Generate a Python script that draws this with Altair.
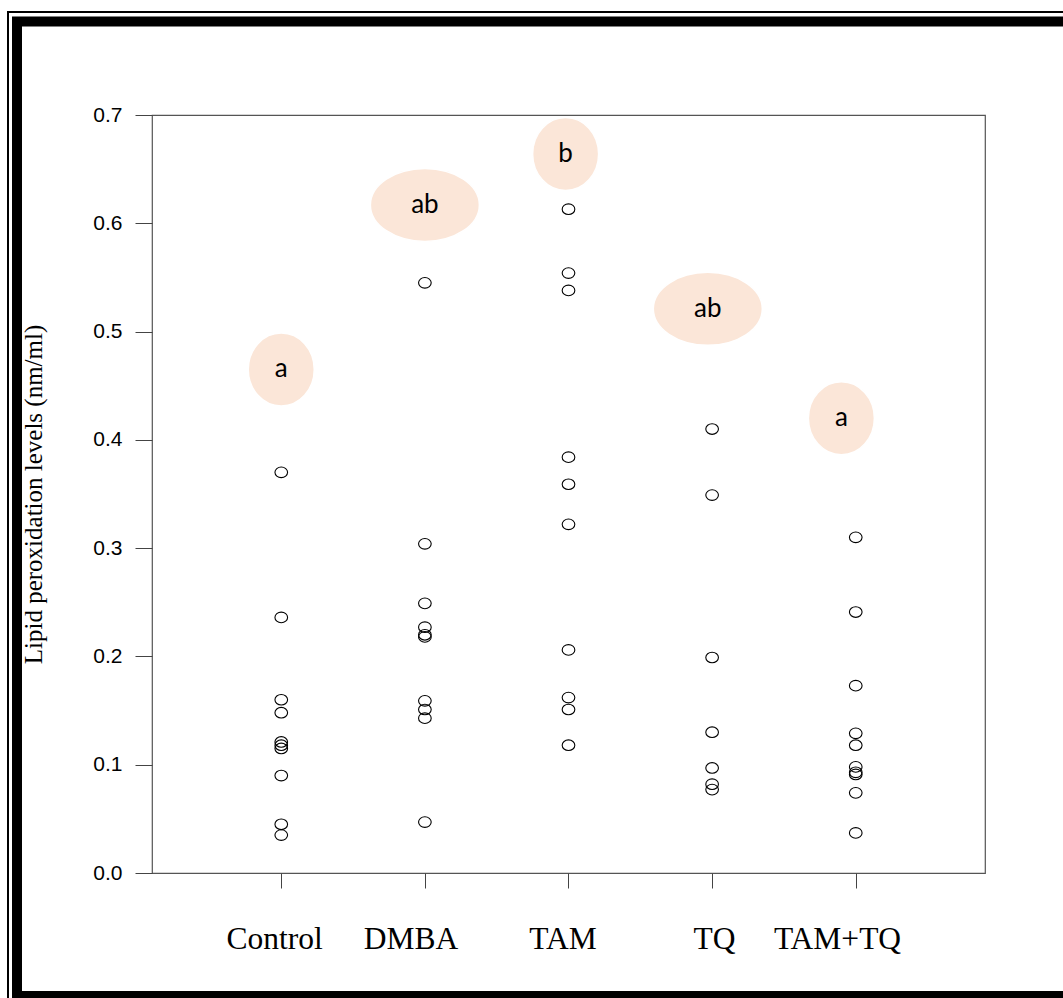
import altair as alt
import pandas as pd

# ---- data ----
groups = ["Control", "DMBA", "TAM", "TQ", "TAM+TQ"]
control = [0.370, 0.236, 0.160, 0.148, 0.121, 0.118, 0.115, 0.090, 0.045, 0.035]
dmba = [0.545, 0.304, 0.249, 0.227, 0.220, 0.218, 0.159, 0.151, 0.143, 0.047]
tam = [0.613, 0.554, 0.538, 0.384, 0.359, 0.322, 0.206, 0.162, 0.151, 0.118]
tq = [0.410, 0.349, 0.199, 0.130, 0.097, 0.082, 0.077]
tamtq = [0.310, 0.241, 0.173, 0.129, 0.118, 0.098, 0.093, 0.091, 0.074, 0.037]

letters = ["a", "ab", "b", "ab", "a"]
letter_y = [0.465, 0.617, 0.664, 0.521, 0.420]
letter_x = [1.0, 2.0, 2.98, 3.97, 4.90]

label_x = [0.953, 1.903, 2.962, 4.017, 4.873]

y_ticks = [0.0, 0.1, 0.2, 0.3, 0.4, 0.5, 0.6, 0.7]
x_ticks = [1, 2, 3, 4, 5]

series = [control, dmba, tam, tq, tamtq]
rows = []
for i, (g, vals) in enumerate(zip(groups, series)):
    for v in vals:
        rows.append({"group": g, "pos": i + 1, "value": v})
pts = pd.DataFrame(rows)
let_df = pd.DataFrame({"letter": letters, "lx": letter_x, "ly": letter_y})
lab_df = pd.DataFrame({"name": groups, "lx": label_x})
one = pd.DataFrame({"k": [0]})


def ellipse_path(k):
    c = 0.5523
    return (f"M 1 0 C 1 {c*k:.4f} {c} {k:.4f} 0 {k:.4f} "
            f"C {-c} {k:.4f} -1 {c*k:.4f} -1 0 "
            f"C -1 {-c*k:.4f} {-c} {-k:.4f} 0 {-k:.4f} "
            f"C {c} {-k:.4f} 1 {-c*k:.4f} 1 0 Z")


W, H = 833, 758
xscale = alt.Scale(domain=[0.1, 5.9], nice=False, zero=False)
yscale = alt.Scale(domain=[0, 0.7], nice=False, zero=True)

xaxis = alt.Axis(values=x_ticks, labels=False, tickSize=15, tickColor="#444",
                 tickWidth=1, domain=False, grid=False, title=None)
yaxis = alt.Axis(values=y_ticks, format=".1f", tickSize=17, tickColor="#444", tickWidth=1,
                 labelPadding=13, labelFont="Liberation Sans", labelFontSize=21,
                 labelColor="black", domain=False, grid=False,
                 title="Lipid peroxidation levels (nm/ml)", titleFont="Liberation Serif",
                 titleFontSize=25, titleFontWeight="normal", titleColor="black",
                 titleAngle=270, titleX=-119, titleY=379, titleAlign="center",
                 titleBaseline="middle")

# frame (decoration around the figure)
frame_thin = alt.Chart(one).mark_rect(fill="white", fillOpacity=0, stroke="black", strokeWidth=2).encode(
    x=alt.value(-144), x2=alt.value(W + 100), y=alt.value(-103), y2=alt.value(H + 140))
frame_thick = alt.Chart(one).mark_rect(fill="white", fillOpacity=0, stroke="black", strokeWidth=10).encode(
    x=alt.value(-135), x2=alt.value(W + 100), y=alt.value(-93.5), y2=alt.value(H + 123))

points = alt.Chart(pts).mark_point(shape=ellipse_path(0.84), size=160, filled=False,
                                   stroke="black", strokeWidth=1.1, opacity=1).encode(
    x=alt.X("pos:Q", scale=xscale, axis=xaxis),
    y=alt.Y("value:Q", scale=yscale, axis=yaxis))

narrow = alt.Chart(let_df).transform_filter("length(datum.letter) == 1").mark_point(
    shape=ellipse_path(73 / 66), size=66 * 66, filled=True, fill="#FBE6D8", opacity=1,
    stroke="white", strokeWidth=1.5).encode(
    x=alt.X("lx:Q", scale=xscale, axis=xaxis), y=alt.Y("ly:Q", scale=yscale, axis=yaxis))
wide = alt.Chart(let_df).transform_filter("length(datum.letter) == 2").mark_point(
    shape=ellipse_path(73 / 109), size=109 * 109, filled=True, fill="#FBE6D8", opacity=1,
    stroke="white", strokeWidth=1.5).encode(
    x=alt.X("lx:Q", scale=xscale, axis=xaxis), y=alt.Y("ly:Q", scale=yscale, axis=yaxis))
letter_text = alt.Chart(let_df).mark_text(font="Lato", fontSize=26, color="black",
                                          align="center", baseline="middle").encode(
    x=alt.X("lx:Q", scale=xscale, axis=xaxis), y=alt.Y("ly:Q", scale=yscale, axis=yaxis),
    text="letter:N")

xlabels = alt.Chart(lab_df).mark_text(font="Liberation Serif", fontSize=31.5, color="black",
                                      align="center", baseline="alphabetic").encode(
    x=alt.X("lx:Q", scale=xscale, axis=xaxis), y=alt.value(834), text="name:N")

chart = alt.layer(frame_thin, frame_thick, points, narrow, wide, letter_text, xlabels).properties(
    width=W, height=H,
    autosize=alt.AutoSizeParams(type="none"),
    padding={"left": 152, "top": 115, "right": 78, "bottom": 125},
    background="white",
).configure_view(stroke="#555", strokeWidth=1.2)

chart.save("out.html", embed_options={"renderer": "svg", "actions": False})
